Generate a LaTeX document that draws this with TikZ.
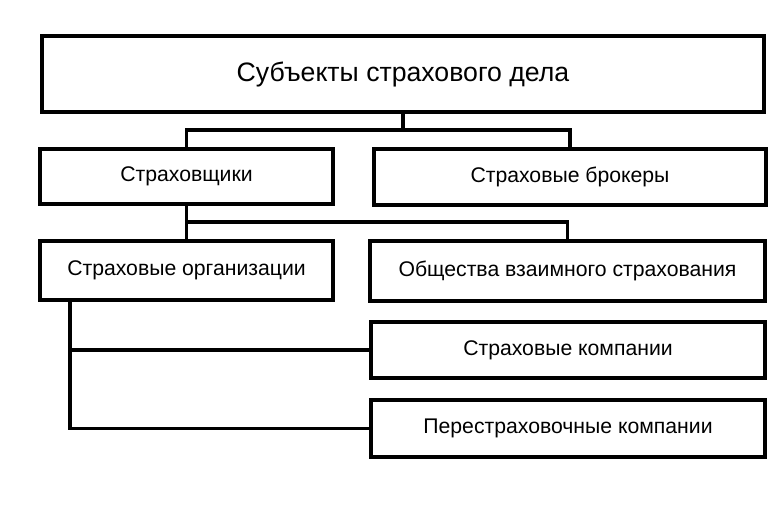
\documentclass[tikz,border=0pt]{standalone}
\usepackage{fontspec}
\setmainfont{Liberation Sans}
\tikzset{
	box/.style={draw, line width=2.3pt, inner sep=0pt, font=\fontsize{15.9}{18}\selectfont},
	link/.style={line width=2.3pt}
}
\begin{document}
\begin{tikzpicture}[x=0.75pt, y=-0.75pt]
		\useasboundingbox (0,0) rectangle (768,506);
		\node[box, minimum width=541.5pt, minimum height=57pt, font=\fontsize{20}{24}\selectfont] (subj) at (403,74) {Субъекты страхового дела};
		\node[box, minimum width=219.75pt, minimum height=41.25pt] (strah) at (186.5,176.5) {Страховщики};
		\node[box, minimum width=294pt, minimum height=42pt] (brok) at (570,177) {Страховые брокеры};
		\node[box, minimum width=219.75pt, minimum height=44.25pt] (org) at (186.5,270.5) {Страховые организации};
		\node[box, minimum width=296.25pt, minimum height=45pt] (obsh) at (567.5,271) {Общества взаимного страхования};
		\node[box, minimum width=295.5pt, minimum height=42pt] (komp) at (568,350) {Страховые компании};
		\node[box, minimum width=295.5pt, minimum height=42.75pt] (perestr) at (568,428.5) {Перестраховочные компании};
		\coordinate (j1) at (403,130);
		\coordinate (j2) at (186.5,222);
		\coordinate (j3) at (70,300);
		\draw[link] (subj.south) -- (j1);
		\draw[link] (strah.north) |- (j1) -| (brok.north);
		\draw[link] (strah.south) -- (org.north);
		\draw[link] (j2) -| (obsh.north);
		\draw[link] (j3) |- (komp.west);
		\draw[link] (j3) |- (perestr.west);
	\end{tikzpicture}
\end{document}
